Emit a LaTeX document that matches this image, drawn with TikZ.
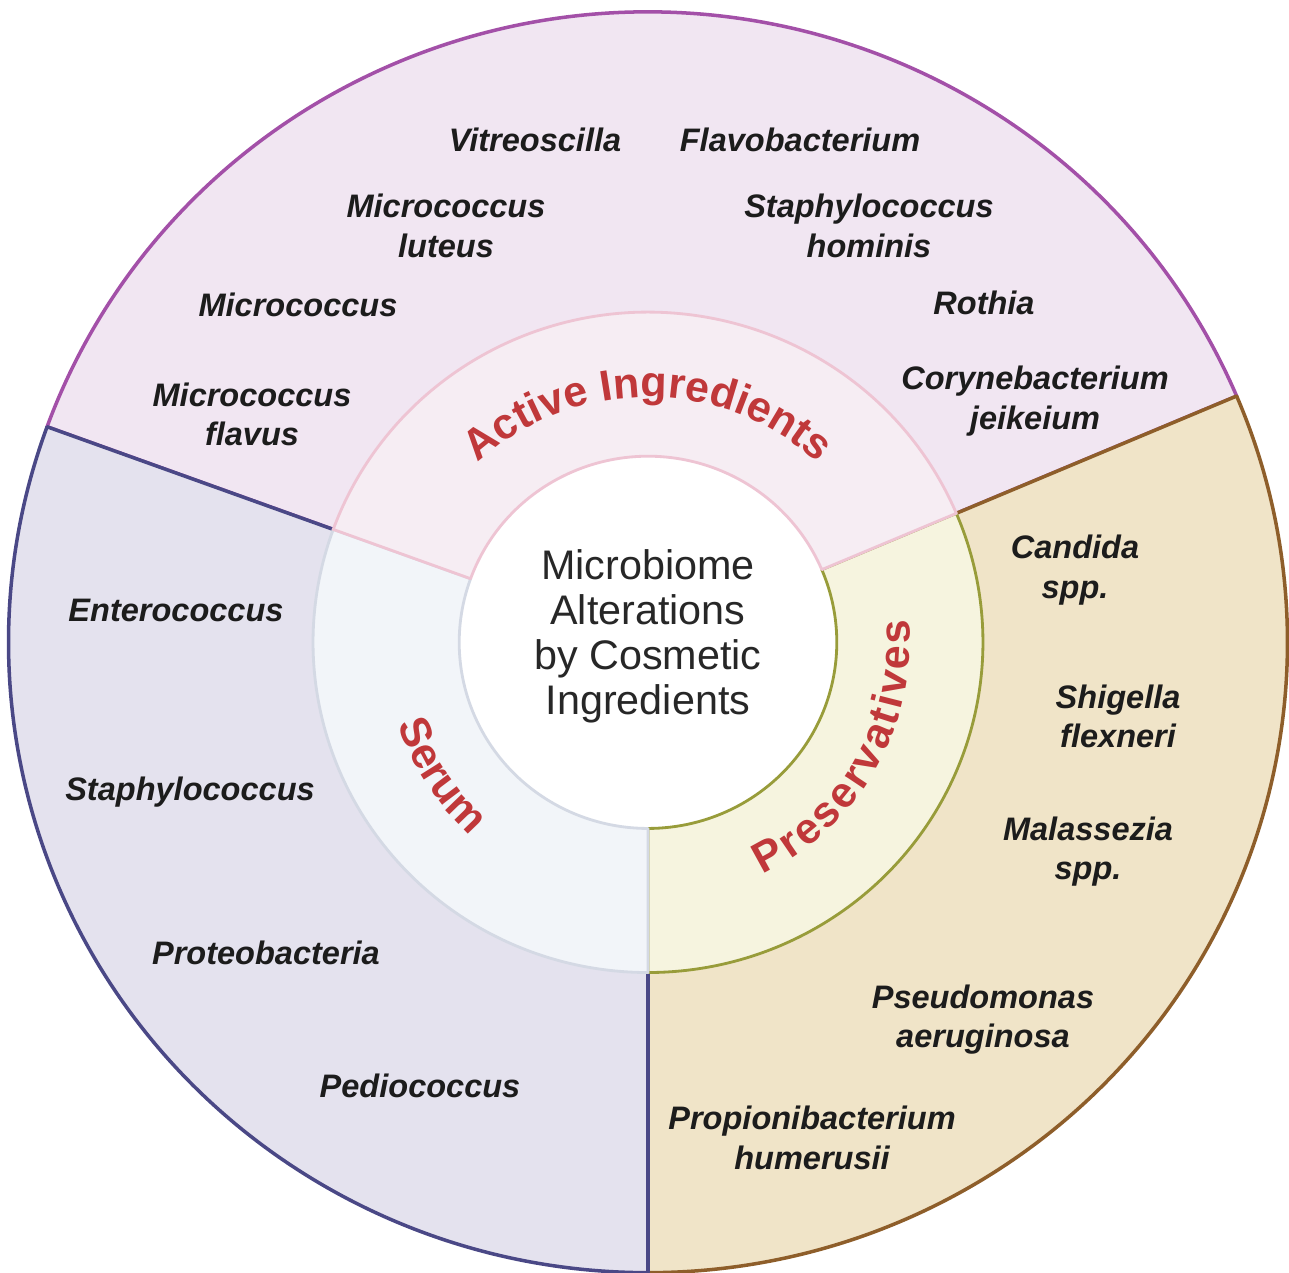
\documentclass[tikz,border=0pt]{standalone}
\usepackage{fontspec}
\setmainfont{Liberation Sans}
\usetikzlibrary{decorations.text}
\definecolor{actOut}{RGB}{241,230,242}
\definecolor{actMid}{RGB}{246,237,243}
\definecolor{actLine}{RGB}{163,80,168}
\definecolor{actMidLine}{RGB}{238,196,211}
\definecolor{serOut}{RGB}{228,226,238}
\definecolor{serMid}{RGB}{242,245,249}
\definecolor{serLine}{RGB}{74,72,134}
\definecolor{serMidLine}{RGB}{212,217,228}
\definecolor{preOut}{RGB}{240,228,200}
\definecolor{preMid}{RGB}{246,244,223}
\definecolor{preLine}{RGB}{142,94,42}
\definecolor{preMidLine}{RGB}{152,156,58}
\definecolor{lblred}{RGB}{192,56,58}
\definecolor{txt}{RGB}{28,28,28}
\newcommand{\spfont}{\fontsize{18.5}{22.5}\selectfont\bfseries\itshape}
\newcommand{\lblfont}{\fontsize{24.5}{28}\selectfont\bfseries}
\begin{document}
\begin{tikzpicture}[x=0.0203cm,y=0.02cm,
  sp/.style={font=\spfont, align=center, text=txt, inner sep=0pt},
  ctr/.style={font=\fontsize{23.5}{25.5}\selectfont, align=center, text=txt!95},
  outb/.style={line width=2pt, line join=round},
  midb/.style={line width=1.6pt, line join=round},
  curved/.style={decorate, decoration={text along path, text align=center, text={|\lblfont\color{lblred}|#1}}},
  curvedfit/.style={decorate, decoration={text along path, text align=fit to path, text={|\lblfont\color{lblred}|#1}}}
]
\useasboundingbox (-638.4,-630) rectangle (631.5,642);
% ---------- outer ring ----------
\fill[actOut] (23:630) arc[start angle=23,end angle=160,radius=630] -- (160:330) arc[start angle=160,end angle=23,radius=330] -- cycle;
\draw[outb,actLine] (23:330) -- (23:630) arc[start angle=23,end angle=160,radius=630] -- (160:330);
\fill[preOut] (270:630) arc[start angle=270,end angle=383,radius=630] -- (23:330) arc[start angle=23,end angle=-90,radius=330] -- cycle;
\draw[outb,preLine] (270:330) -- (270:630) arc[start angle=270,end angle=383,radius=630] -- (23:330);
\fill[serOut] (160:630) arc[start angle=160,end angle=270,radius=630] -- (270:330) arc[start angle=270,end angle=160,radius=330] -- cycle;
\draw[outb,serLine] (160:330) -- (160:630) arc[start angle=160,end angle=270,radius=630] -- (270:330);
% ---------- centre ----------
\fill[white] (0,0) circle[radius=186];
% ---------- middle ring ----------
\draw[midb,preMidLine,fill=preMid] (270:330) arc[start angle=270,end angle=383,radius=330] -- (23:186) arc[start angle=23,end angle=-90,radius=186] -- cycle;
\draw[midb,serMidLine,fill=serMid] (160:330) arc[start angle=160,end angle=270,radius=330] -- (270:186) arc[start angle=270,end angle=160,radius=186] -- cycle;
\draw[midb,actMidLine,fill=actMid] (23:330) arc[start angle=23,end angle=160,radius=330] -- (160:186) arc[start angle=160,end angle=23,radius=186] -- cycle;
% ---------- curved labels ----------
\path[curved=Active Ingredients] (150:245) arc[start angle=150,end angle=30,radius=245];
\path[curved=Serum] (178:260) arc[start angle=178,end angle=248,radius=260];
\path[curvedfit=Preservatives] (-64:258) arc[start angle=-64,end angle=5,radius=258];
% ---------- centre text ----------
\node[ctr] (title) at (0,6) {Microbiome\\Alterations\\by Cosmetic\\Ingredients};
% ---------- active ingredients ----------
\node[sp] (a1) at (-111.3,502) {Vitreoscilla};
\node[sp] (a2) at (149.8,502) {Flavobacterium};
\node[sp] (a3) at (-199,416) {Micrococcus\\luteus};
\node[sp] (a4) at (217.7,416) {Staphylococcus\\hominis};
\node[sp] (a5) at (-344.8,337) {Micrococcus};
\node[sp] (a6) at (331,339) {Rothia};
\node[sp] (a7) at (-390.1,228) {Micrococcus\\flavus};
\node[sp] (a8) at (381.3,241) {Corynebacterium\\jeikeium};
% ---------- serum ----------
\node[sp] (s1) at (-465,32) {Enterococcus};
\node[sp] (s2) at (-451.2,-150) {Staphylococcus};
\node[sp] (s3) at (-376.4,-310) {Proteobacteria};
\node[sp] (s4) at (-224.6,-443) {Pediococcus};
% ---------- preservatives ----------
\node[sp] (p1) at (420.7,72) {Candida\\spp.};
\node[sp] (p2) at (463.1,-74) {Shigella\\flexneri};
\node[sp] (p3) at (433.5,-209) {Malassezia\\spp.};
\node[sp] (p4) at (330,-377) {Pseudomonas\\aeruginosa};
\node[sp] (p5) at (161.6,-495) {Propionibacterium\\humerusii};
\end{tikzpicture}
\end{document}
